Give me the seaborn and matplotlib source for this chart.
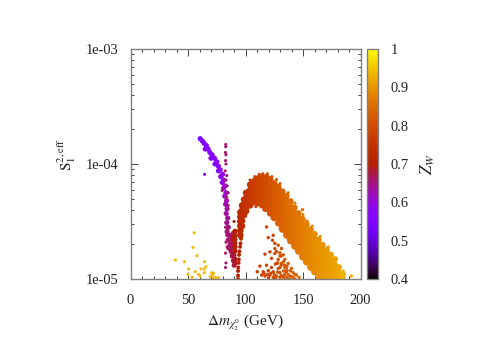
import numpy as np
import pandas as pd
import matplotlib
matplotlib.use("Agg")
import matplotlib.pyplot as plt
import seaborn as sns
from matplotlib.colors import ListedColormap, Normalize
from matplotlib.cm import ScalarMappable
from matplotlib.ticker import FuncFormatter, LogLocator, MultipleLocator, NullFormatter

# main band, one group per x column (log10 of S)
band_x = ([95.5] * 6 + [97.0] * 5 + [98.7] * 4 + [100.5] * 5 + [104.0] * 5 + [107.5] * 5 + [111.0] * 6 + [114.5] * 7
          + [118.0] * 7 + [121.5] * 8 + [125.0] * 8 + [128.5] * 8 + [132.0] * 9 + [135.5] * 9
          + [139.0] * 9 + [142.5] * 9 + [146.0] * 9 + [149.5] * 9 + [153.0] * 9 + [156.5] * 9
          + [160.0] * 9 + [163.5] * 8 + [167.0] * 8 + [170.5] * 7 + [174.0] * 6 + [177.5] * 5
          + [181.0] * 3 + [184.5] * 2)
band_logs = [-4.42, -4.46, -4.50, -4.54, -4.58, -4.62,
             -4.36, -4.405, -4.45, -4.495, -4.54,
             -4.31, -4.355, -4.40, -4.445,
             -4.25, -4.295, -4.34, -4.385, -4.41,
             -4.18, -4.225, -4.27, -4.315, -4.36,
             -4.15, -4.195, -4.24, -4.285, -4.33,
             -4.125, -4.17, -4.215, -4.26, -4.305, -4.34,
             -4.115, -4.16, -4.205, -4.25, -4.295, -4.34, -4.36,
             -4.115, -4.16, -4.205, -4.25, -4.295, -4.34, -4.39,
             -4.135, -4.18, -4.225, -4.27, -4.315, -4.36, -4.40, -4.43,
             -4.17, -4.215, -4.26, -4.305, -4.35, -4.395, -4.44, -4.47,
             -4.2, -4.245, -4.29, -4.335, -4.38, -4.425, -4.47, -4.515,
             -4.24, -4.285, -4.33, -4.375, -4.42, -4.465, -4.51, -4.54, -4.57,
             -4.28, -4.325, -4.37, -4.415, -4.46, -4.505, -4.55, -4.595, -4.62,
             -4.325, -4.37, -4.415, -4.46, -4.505, -4.55, -4.595, -4.64, -4.67,
             -4.38, -4.425, -4.47, -4.515, -4.56, -4.605, -4.65, -4.695, -4.715,
             -4.43, -4.475, -4.52, -4.565, -4.61, -4.655, -4.70, -4.745, -4.76,
             -4.48, -4.525, -4.57, -4.615, -4.66, -4.705, -4.75, -4.795, -4.81,
             -4.525, -4.57, -4.615, -4.66, -4.705, -4.75, -4.795, -4.84, -4.855,
             -4.57, -4.615, -4.66, -4.705, -4.75, -4.795, -4.84, -4.885, -4.90,
             -4.61, -4.655, -4.70, -4.745, -4.79, -4.835, -4.88, -4.925, -4.94,
             -4.66, -4.705, -4.75, -4.795, -4.84, -4.885, -4.93, -4.975,
             -4.705, -4.75, -4.795, -4.84, -4.885, -4.93, -4.975, -5.0,
             -4.75, -4.795, -4.84, -4.885, -4.93, -4.975, -5.0,
             -4.79, -4.835, -4.88, -4.925, -4.97, -5.0,
             -4.83, -4.875, -4.92, -4.965, -5.0,
             -4.90, -4.945, -4.99,
             -4.96, -4.995]
band_z = ([0.72] * 6 + [0.73] * 5 + [0.74] * 4 + [0.75] * 5 + [0.76] * 5 + [0.77] * 5 + [0.78] * 6 + [0.79] * 7
          + [0.80] * 7 + [0.81] * 8 + [0.82] * 8 + [0.83] * 8 + [0.835] * 9 + [0.845] * 9
          + [0.85] * 9 + [0.855] * 9 + [0.865] * 9 + [0.87] * 9 + [0.88] * 9 + [0.885] * 9
          + [0.89] * 9 + [0.895] * 8 + [0.90] * 8 + [0.905] * 7 + [0.91] * 6 + [0.915] * 5
          + [0.92] * 3 + [0.93] * 2)

# stray points just outside the band edges
edge_x = [104.0, 108.0, 112.0, 115.0, 119.0, 123.0, 127.0, 130.0, 137.0, 143.0, 150.0, 158.0, 165.0, 172.0, 179.0,
          185.0, 109.0, 116.0, 123.0, 130.0, 137.0, 144.0, 151.0, 158.0, 163.0]
edge_logs = [-4.14, -4.11, -4.09, -4.085, -4.085, -4.11, -4.135, -4.17, -4.25, -4.34, -4.44, -4.54, -4.63, -4.72,
             -4.82, -4.93, -4.37, -4.40, -4.47, -4.56, -4.65, -4.75, -4.84, -4.93, -5.0]
edge_z = [0.76, 0.77, 0.78, 0.79, 0.80, 0.81, 0.82, 0.83, 0.845, 0.855, 0.87, 0.885, 0.895, 0.905, 0.915,
          0.93, 0.77, 0.79, 0.81, 0.83, 0.845, 0.86, 0.87, 0.885, 0.89]

# thin stem at the foot of the band
stem_x = [93.5, 93.5, 93.5, 93.7, 94.0, 94.2, 94.4, 94.7, 95.3, 95.7, 96.1]
stem_logs = [-5.0, -4.97, -4.93, -4.90, -4.86, -4.83, -4.79, -4.76, -4.72, -4.69, -4.65]
stem_z = [0.70, 0.70, 0.70, 0.70, 0.705, 0.705, 0.71, 0.71, 0.715, 0.715, 0.72]

# purple arm on the left
arm_x = [60.6, 62.5, 64.0, 66.0, 65.0, 67.5, 69.0, 71.0, 70.0, 73.0, 75.0, 73.5, 76.5, 78.0, 76.5, 80.0,
         78.5, 81.0, 79.8, 82.0, 81.0, 83.0, 82.0, 83.5, 82.7, 84.0, 83.2, 84.5, 83.7, 85.0, 84.0, 86.0,
         85.0, 86.5, 85.5, 87.5, 88.5, 89.5, 90.2]
arm_logs = [-3.78, -3.80, -3.82, -3.84, -3.87, -3.87, -3.90, -3.92, -3.95, -3.95, -3.98, -4.0, -4.02, -4.05,
            -4.06, -4.09, -4.11, -4.14, -4.16, -4.19, -4.21, -4.25, -4.28, -4.32, -4.35, -4.39, -4.43, -4.47,
            -4.51, -4.55, -4.59, -4.62, -4.66, -4.70, -4.73, -4.76, -4.80, -4.84, -4.88]
arm_z = [0.55, 0.55, 0.55, 0.55, 0.555, 0.555, 0.56, 0.56, 0.56, 0.565, 0.57, 0.57, 0.575, 0.58, 0.58, 0.59,
         0.59, 0.60, 0.60, 0.61, 0.61, 0.62, 0.62, 0.63, 0.63, 0.635, 0.64, 0.64, 0.645, 0.65, 0.65, 0.655,
         0.655, 0.66, 0.66, 0.67, 0.67, 0.68, 0.68]

# red lobe between the arm and the stem
lobe_x = [89.5, 90.9, 88.3, 90.9, 88.3, 90.9, 88.3, 90.9, 89.2, 90.9, 89.2, 90.9, 90.0, 90.9, 90.9]
lobe_logs = [-4.60, -4.584, -4.625, -4.619, -4.654, -4.654, -4.688, -4.688, -4.723, -4.723, -4.758, -4.758,
             -4.792, -4.827, -4.861]
lobe_z = [0.69, 0.70, 0.69, 0.70, 0.69, 0.70, 0.69, 0.70, 0.69, 0.70, 0.69, 0.70, 0.69, 0.69, 0.69]

# loose magenta points
sparse_x = [82.8, 82.8, 82.6, 83.0, 82.6, 83.0, 82.3, 83.7, 83.0, 84.0, 79.7, 85.0, 83.7, 85.0, 82.6, 83.7,
            83.7, 83.0, 84.0, 82.6, 83.0, 82.6, 90.0, 64.4]
sparse_logs = [-3.83, -3.85, -3.90, -3.92, -3.97, -4.0, -4.06, -4.1, -4.14, -4.19, -4.23, -4.25, -4.29, -4.36,
               -4.55, -4.58, -4.62, -4.68, -4.72, -4.775, -4.86, -4.90, -4.50, -4.09]
sparse_z = [0.66, 0.66, 0.66, 0.66, 0.66, 0.66, 0.66, 0.66, 0.66, 0.66, 0.66, 0.66, 0.66, 0.66,
            0.66, 0.66, 0.66, 0.66, 0.66, 0.66, 0.66, 0.66, 0.70, 0.56]

# lower orange blob and a few strays
blob_x = [118.3, 119.8, 124.1, 123.5, 125.5, 128.4, 125.5, 131.3, 116.9, 121.2, 125.5, 129.9, 132.8, 122.6,
          128.4, 134.2, 127.0, 131.3, 137.1, 118.3, 112.5, 122.6, 128.4, 134.2, 140.0, 115.4, 119.8, 124.1,
          129.9, 135.6, 141.4, 110.2, 116.9, 121.2, 127.0, 132.8, 138.5, 144.3, 146.6, 114.0, 124.1, 129.9,
          135.6, 141.4, 149.5, 153.5, 181.8, 192.0,
          130.0, 133.0, 136.0, 139.0, 143.0, 126.0, 130.0, 133.0, 137.0, 140.0, 125.0, 128.0, 131.0, 134.0,
          119.0, 122.0, 126.0, 133.0, 138.0, 143.0, 120.0, 116.0, 136.0, 131.0, 128.0, 134.0, 127.0, 131.0]
blob_logs = [-4.547, -4.64, -4.62, -4.663, -4.69, -4.706, -4.735, -4.735, -4.784, -4.764, -4.778, -4.772, -4.79,
             -4.82, -4.83, -4.83, -4.865, -4.865, -4.865, -4.88, -4.888, -4.90, -4.908, -4.90, -4.908, -4.937,
             -4.928, -4.937, -4.945, -4.937, -4.945, -4.937, -4.974, -4.966, -4.974, -4.98, -4.974, -4.966,
             -4.986, -4.966, -4.986, -4.986, -4.986, -4.986, -4.397, -4.498, -4.888, -4.974,
             -4.80, -4.85, -4.89, -4.93, -4.96, -4.87, -4.90, -4.93, -4.96, -4.98, -4.96, -4.94, -4.97, -4.96,
             -4.96, -4.95, -4.99, -5.0, -5.0, -5.0, -4.99, -4.95, -4.92, -4.88, -4.86, -4.88, -4.76, -4.80]
blob_z = [0.78, 0.78, 0.78, 0.78, 0.79, 0.80, 0.79, 0.81, 0.79, 0.79, 0.80, 0.81, 0.81, 0.79,
          0.80, 0.82, 0.80, 0.81, 0.82, 0.78, 0.78, 0.79, 0.80, 0.82, 0.83, 0.78, 0.79, 0.80,
          0.81, 0.82, 0.83, 0.77, 0.78, 0.79, 0.80, 0.81, 0.82, 0.84, 0.84, 0.78, 0.80, 0.81,
          0.82, 0.83, 0.86, 0.87, 0.92, 0.93,
          0.81, 0.82, 0.82, 0.83, 0.84, 0.80, 0.81, 0.82, 0.83, 0.83, 0.80, 0.80, 0.81, 0.82,
          0.79, 0.79, 0.80, 0.82, 0.83, 0.84, 0.79, 0.78, 0.82, 0.81, 0.80, 0.82, 0.80, 0.81]

# yellow points at low mass difference
low_x = [55.4, 54.3, 57.7, 39.0, 46.8, 64.4, 50.5, 61.2, 65.5, 64.1, 56.3, 64.1, 50.0, 59.2, 60.6, 53.4,
         70.7, 72.2, 71.3, 69.3, 73.6, 76.5, 72.2, 75.0]
low_logs = [-4.598, -4.725, -4.798, -4.835, -4.85, -4.85, -4.913, -4.913, -4.893, -4.913, -4.936, -4.945,
            -4.96, -4.96, -4.974, -4.985, -4.945, -4.95, -4.965, -4.98, -4.985, -4.985, -4.994, -4.996]
low_z = [0.94] * 24

x_ticks = [0, 50, 100, 150, 200]
z_ticks = [0.4, 0.5, 0.6, 0.7, 0.8, 0.9, 1.0]
z_labels = ["0.4", "0.5", "0.6", "0.7", "0.8", "0.9", "1"]

sns.set_theme(style="white")
plt.rcParams["font.family"] = ["Liberation Serif", "DejaVu Serif"]
plt.rcParams["mathtext.fontset"] = "stix"
GREY = "#7f7f7f"
TEXT = "#222222"
FONT = 10.4

# gnuplot's default pm3d palette (rgbformulae 7,5,15)
t = np.linspace(0, 1, 256)
palette = ListedColormap(np.c_[np.sqrt(t), t ** 3, np.clip(np.sin(2 * np.pi * t), 0, 1)])
norm = Normalize(0.4, 1.0)


def points(xs, logs, zs):
    return pd.DataFrame({"x": xs, "s": 10.0 ** np.array(logs), "z": zs})


def draw(ax, df, size):
    sns.scatterplot(data=df, x="x", y="s", hue="z", hue_norm=norm, palette=palette, s=size,
                    linewidth=0, legend=False, ax=ax)


fig = plt.figure(figsize=(4.91, 3.43), dpi=100)
ax = fig.add_axes([130.5 / 491, 64 / 343, 230 / 491, 230 / 343])
cax = fig.add_axes([367 / 491, 64 / 343, 11 / 491, 230 / 343])

draw(ax, points(lobe_x, lobe_logs, lobe_z), 13)
draw(ax, points(arm_x, arm_logs, arm_z), 14)
draw(ax, points(edge_x, edge_logs, edge_z), 5)
draw(ax, points(band_x, band_logs, band_z), 22)
draw(ax, points(stem_x, stem_logs, stem_z), 8)
draw(ax, points(sparse_x, sparse_logs, sparse_z), 5)
draw(ax, points(blob_x, blob_logs, blob_z), 6)
draw(ax, points(low_x, low_logs, low_z), 5)

ax.set_yscale("log")
ax.set_xlim(0, 200)
ax.set_ylim(1e-5, 1e-3)
ax.set_xticks(x_ticks)
ax.xaxis.set_minor_locator(MultipleLocator(10))
ax.yaxis.set_major_locator(LogLocator(base=10, numticks=5))
ax.yaxis.set_minor_locator(LogLocator(base=10, subs=np.arange(2, 10), numticks=5))
ax.yaxis.set_major_formatter(FuncFormatter(lambda v, pos: f"{v:.0e}"))
ax.yaxis.set_minor_formatter(NullFormatter())
ax.tick_params(which="major", direction="in", length=5, width=0.7, color="#444444", top=True, right=True,
               bottom=True, left=True, labelsize=FONT, labelcolor=TEXT, pad=9)
ax.tick_params(which="minor", direction="in", length=2.5, width=0.7, color="#444444", top=True, right=True,
               bottom=True, left=True)
ax.tick_params(axis="x", which="major", pad=11)
ax.set_xlabel(r"$\Delta m_{\chi_2^0}$ (GeV)", fontsize=11, color=TEXT, labelpad=4)
ax.set_ylabel(r"$\mathrm{S}_1^{2,\mathrm{eff}}$", fontsize=11, color=TEXT, labelpad=5, y=0.54)
for spine in ax.spines.values():
    spine.set_color(GREY)
    spine.set_linewidth(1.0)

cbar = fig.colorbar(ScalarMappable(norm=norm, cmap=palette), cax=cax)
cbar.set_ticks(z_ticks)
cbar.set_ticklabels(z_labels)
cbar.ax.tick_params(direction="in", length=3, width=0.7, color="#333333", left=True, right=True,
                    labelsize=FONT, labelcolor=TEXT, pad=9)
cbar.set_label(r"$Z_W$", fontsize=12, color=TEXT, labelpad=7)
cbar.outline.set_edgecolor(GREY)
cbar.outline.set_linewidth(1.0)

fig.savefig("out.png", dpi=100, facecolor="white")
